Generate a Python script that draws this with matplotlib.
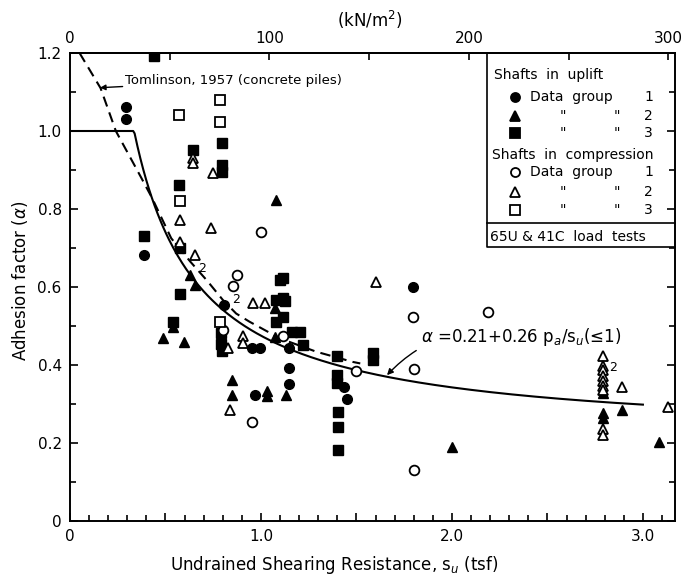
import numpy as np
import matplotlib
matplotlib.use("Agg")
import matplotlib.pyplot as plt
from matplotlib.ticker import MultipleLocator, FuncFormatter, FixedLocator

# ---------------- data (s_u in tsf, alpha) ----------------
# Shafts in uplift
up1_x = [0.293, 0.293, 0.387, 0.806, 0.955, 0.995, 1.145, 1.145, 1.145, 0.970, 1.435, 1.449, 1.794]
up1_y = [1.061, 1.031, 0.682, 0.554, 0.443, 0.443, 0.443, 0.392, 0.352, 0.323, 0.343, 0.312, 0.601]

up2_x = [1.079, 0.628, 0.654, 1.075, 0.541, 0.489, 0.598, 1.075, 0.846, 0.846, 1.132, 1.030, 1.030,
         2.789, 2.789, 2.789, 2.888, 1.998, 3.084]
up2_y = [0.823, 0.631, 0.605, 0.546, 0.498, 0.469, 0.460, 0.471, 0.361, 0.323, 0.323, 0.334, 0.321,
         0.327, 0.276, 0.265, 0.284, 0.190, 0.203]

up3_x = [0.440, 0.646, 0.794, 0.794, 0.794, 0.571, 0.387, 0.576, 1.117, 1.100, 1.113, 0.576, 1.079,
         1.126, 1.117, 1.079, 0.541, 0.789, 0.789, 0.794, 1.160, 1.204, 1.222, 1.400, 1.396, 1.396,
         1.405, 1.405, 1.405, 1.585, 1.585]
up3_y = [1.193, 0.951, 0.969, 0.913, 0.896, 0.862, 0.731, 0.699, 0.622, 0.618, 0.571, 0.582, 0.567,
         0.565, 0.524, 0.511, 0.511, 0.481, 0.453, 0.436, 0.485, 0.485, 0.452, 0.424, 0.374, 0.355,
         0.280, 0.241, 0.181, 0.430, 0.413]

# Shafts in compression
cp1_x = [1.000, 0.873, 0.855, 0.799, 1.117, 0.951, 1.794, 2.190, 1.500, 1.803, 1.803]
cp1_y = [0.740, 0.631, 0.603, 0.491, 0.474, 0.255, 0.524, 0.535, 0.385, 0.391, 0.130]

cp2_x = [0.642, 0.642, 0.750, 0.576, 0.737, 0.576, 0.654, 0.956, 1.021, 0.829, 0.907, 0.907, 0.838,
         1.600, 2.789, 2.789, 2.789, 2.789, 2.789, 2.789, 2.789, 2.789, 2.789, 2.888, 3.129]
cp2_y = [0.930, 0.918, 0.892, 0.772, 0.752, 0.715, 0.682, 0.560, 0.560, 0.443, 0.474, 0.457, 0.284,
         0.614, 0.422, 0.398, 0.386, 0.373, 0.360, 0.347, 0.335, 0.237, 0.220, 0.344, 0.293]

cp3_x = [0.571, 0.785, 0.785, 0.576, 0.785]
cp3_y = [1.041, 1.080, 1.022, 0.821, 0.511]

tom_x = [0.05, 0.16, 0.24, 0.37, 0.43, 0.53, 0.63, 0.72, 0.80, 0.87, 0.94, 1.10, 1.29, 1.48, 1.52]
tom_y = [1.20, 1.11, 1.00, 0.883, 0.828, 0.725, 0.665, 0.615, 0.567, 0.532, 0.511, 0.468, 0.434, 0.408, 0.404]

# Design equation alpha = 0.21 + 0.26 pa/su (<=1)
pa = 1.02
eq_a, eq_b = 0.21, 0.26
eq_x = np.linspace(0.0, 3.0, 400)

# "2" labels (coincident points)
two_x = [0.689, 0.867, 2.846]
two_y = [0.648, 0.567, 0.394]

# top axis ticks (kN/m^2)
kn_major = [0, 100, 200, 300]
kn_minor = [50, 150, 250]

# ---------------- figure ----------------
fig = plt.figure(figsize=(6.82, 5.79), dpi=100)
ax = fig.add_axes([70/682, 1-521/579, 605/682, 468/579])
ax.set_xlim(0, 3.168)
ax.set_ylim(0, 1.2)

for s in ax.spines.values():
    s.set_linewidth(1.4)

eq_y = np.minimum(1.0, eq_a + eq_b * pa / np.maximum(eq_x, 1e-6))
ax.plot(eq_x, eq_y, color='black', lw=1.5, zorder=2)
ax.plot(tom_x, tom_y, color='black', lw=1.5, ls=(0, (5, 3)), zorder=2)

ms = 7
ax.plot(up1_x, up1_y, 'o', mfc='black', mec='black', ms=ms, ls='none', zorder=3)
ax.plot(up2_x, up2_y, '^', mfc='black', mec='black', ms=ms, ls='none', zorder=3)
ax.plot(up3_x, up3_y, 's', mfc='black', mec='black', ms=ms-0.4, ls='none', zorder=3)
ax.plot(cp1_x, cp1_y, 'o', mfc='white', mec='black', mew=1.3, ms=ms, ls='none', zorder=3)
ax.plot(cp2_x, cp2_y, '^', mfc='white', mec='black', mew=1.3, ms=ms, ls='none', zorder=3)
ax.plot(cp3_x, cp3_y, 's', mfc='white', mec='black', mew=1.3, ms=ms-0.4, ls='none', zorder=3)

for tx, ty in zip(two_x, two_y):
    ax.text(tx, ty, "2", fontsize=9, ha='center', va='center')

# ticks
ax.xaxis.set_major_locator(MultipleLocator(0.5))
ax.xaxis.set_minor_locator(MultipleLocator(0.1))
ax.xaxis.set_major_formatter(FuncFormatter(
    lambda v, p: "0" if abs(v) < 1e-6 else ("%.1f" % v if abs(v - round(v)) < 1e-6 else "")))
ax.yaxis.set_major_locator(MultipleLocator(0.2))
ax.yaxis.set_minor_locator(MultipleLocator(0.1))
ax.yaxis.set_major_formatter(FuncFormatter(lambda v, p: "0" if abs(v) < 1e-6 else "%.1f" % v))
ax.tick_params(which='both', direction='in', top=False, right=True, width=1.2, labelsize=11)
ax.tick_params(which='major', length=6, pad=6)
ax.tick_params(which='minor', length=4)

sec = ax.secondary_xaxis('top', functions=(lambda x: x * 95.76, lambda k: k / 95.76))
sec.xaxis.set_major_locator(FixedLocator(kn_major))
sec.xaxis.set_minor_locator(FixedLocator(kn_minor))
sec.tick_params(which='both', direction='in', length=5, width=1.2, labelsize=11, pad=5)
sec.spines['top'].set_linewidth(1.4)

fig.text(370/682, 1-20/579, "(kN/m$^2$)", ha='center', va='center', fontsize=12)
fig.text(334/682, 1-565/579, "Undrained Shearing Resistance, s$_u$ (tsf)",
         ha='center', va='center', fontsize=12)
fig.text(20/682, 1-281/579, r"Adhesion factor ($\alpha$)", rotation=90,
         ha='center', va='center', fontsize=12)

# annotations
ax.annotate("Tomlinson, 1957 (concrete piles)", xy=(0.157, 1.111), xytext=(0.29, 1.129),
            fontsize=9.5, ha='left', va='center',
            arrowprops=dict(arrowstyle='-|>', color='black', lw=1.0, shrinkA=0, shrinkB=0,
                            mutation_scale=8))
ax.annotate(r"$\alpha$ =0.21+0.26 p$_a$/s$_u$(≤1)", xy=(1.66, 0.374), xytext=(1.84, 0.472),
            fontsize=12, ha='left', va='center',
            arrowprops=dict(arrowstyle='-|>', color='black', lw=1.0, shrinkA=2, shrinkB=0,
                            mutation_scale=9, connectionstyle='arc3,rad=0.3'))

# legend box
T = ax.transAxes
bx0, by0, by1 = 0.689, 0.585, 1.0
ax.plot([bx0, bx0, 1.0], [by1, by0, by0], color='black', lw=1.2, transform=T, clip_on=False)
ax.plot([bx0, 1.0], [0.637, 0.637], color='black', lw=1.2, transform=T, clip_on=False)
fs = 10
ax.text(0.701, 0.953, "Shafts  in  uplift", transform=T, fontsize=fs, va='center')
ax.text(0.697, 0.782, "Shafts  in  compression", transform=T, fontsize=fs, va='center')
ax.text(0.695, 0.607, "65U & 41C  load  tests", transform=T, fontsize=fs, va='center')
rows = [(0.906, 'o', 'black', "1"), (0.865, '^', 'black', "2"), (0.829, 's', 'black', "3"),
        (0.746, 'o', 'white', "1"), (0.703, '^', 'white', "2"), (0.665, 's', 'white', "3")]
for yy, mk, fc, num in rows:
    ax.plot([0.736], [yy], mk, mfc=fc, mec='black', mew=1.3, ms=6.5, transform=T, clip_on=False)
    if num == "1":
        ax.text(0.760, yy, "Data  group", transform=T, fontsize=fs, va='center')
    else:
        ax.text(0.815, yy, '"', transform=T, fontsize=fs, va='center', ha='center')
        ax.text(0.904, yy, '"', transform=T, fontsize=fs, va='center', ha='center')
    ax.text(0.956, yy, num, transform=T, fontsize=fs, va='center', ha='center')

fig.savefig("out.png", dpi=100)
